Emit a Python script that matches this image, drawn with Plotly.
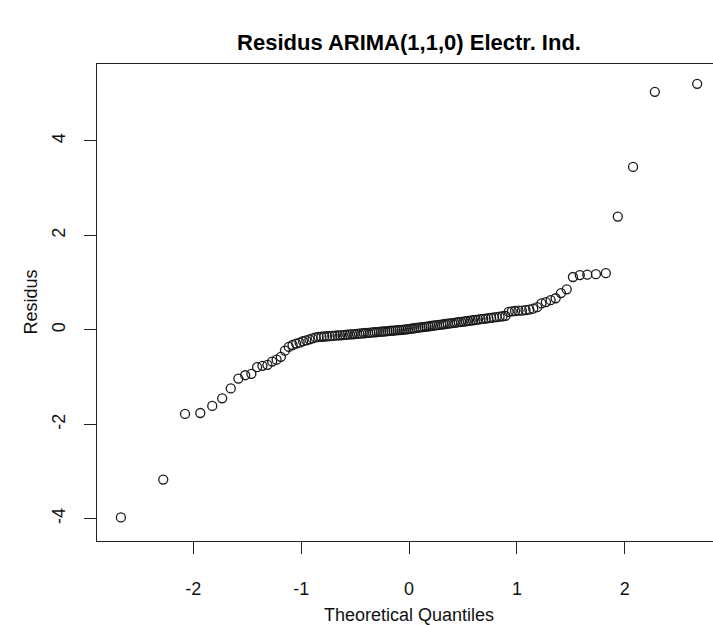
import plotly.graph_objects as go
from statistics import NormalDist

# Sorted residuals (ARIMA(1,1,0) residuals, n = 132)
residus_low = [-3.97, -3.17, -1.78, -1.76, -1.61, -1.45, -1.24, -1.03, -0.96, -0.93,
               -0.79, -0.76, -0.74, -0.67, -0.63, -0.57, -0.44, -0.36, -0.32, -0.29,
               -0.27, -0.24, -0.22, -0.20, -0.18, -0.16]
residus_mid_left = [-0.150, -0.145, -0.140, -0.135, -0.132, -0.128, -0.123, -0.118, -0.114, -0.110,
                    -0.105, -0.100, -0.097, -0.093, -0.088, -0.083, -0.080, -0.075, -0.071, -0.066,
                    -0.062, -0.058, -0.054, -0.050, -0.046, -0.042, -0.038, -0.034, -0.030, -0.026,
                    -0.022, -0.018, -0.014, -0.010, -0.006, -0.002, 0.002, 0.006, 0.010, 0.014]
residus_mid_right = [0.023, 0.029, 0.035, 0.041, 0.046, 0.052, 0.058, 0.064, 0.070, 0.076,
                     0.082, 0.088, 0.094, 0.100, 0.106, 0.113, 0.119, 0.125, 0.131, 0.138,
                     0.144, 0.150, 0.157, 0.163, 0.170, 0.177, 0.183, 0.190, 0.197, 0.204,
                     0.211, 0.218, 0.226, 0.233, 0.240, 0.248, 0.256, 0.264, 0.272, 0.280,
                     0.289, 0.298]
residus_high = [0.38, 0.39, 0.40, 0.41, 0.41, 0.42, 0.43,
                0.45, 0.48, 0.56, 0.59, 0.63, 0.67, 0.78, 0.86, 1.12, 1.16, 1.17, 1.18,
                1.20, 2.40, 3.45, 5.04, 5.21]

x_ticks = [-2, -1, 0, 1, 2]
y_ticks = [-4, -2, 0, 2, 4]

residus = residus_low + residus_mid_left + residus_mid_right + residus_high
n = len(residus)
# qqnorm theoretical quantiles: ppoints(n) = (i - 0.5) / n for n > 10
nd = NormalDist()
theo = [nd.inv_cdf((i + 0.5) / n) for i in range(n)]

FONT = "Liberation Sans, Arial, Helvetica, sans-serif"
TOP, BOTTOM, LEFT = 64, 541, 97

fig = go.Figure()
fig.add_trace(go.Scatter(
    x=theo, y=residus, mode="markers",
    marker=dict(symbol="circle-open", size=9, color="#1a1a1a", line=dict(width=1.3)),
    showlegend=False, hoverinfo="x+y",
))

fig.update_layout(
    width=713, height=625,
    margin=dict(l=LEFT, r=0, t=TOP, b=625 - BOTTOM),
    paper_bgcolor="white", plot_bgcolor="white",
    font=dict(family=FONT, size=17, color="black"),
    title=dict(text="<b>Residus ARIMA(1,1,0) Electr. Ind.</b>",
               x=409 / 713, xanchor="center",
               y=1 - 42 / 625, yanchor="middle", yref="container",
               font=dict(family=FONT, size=22, color="black")),
    xaxis=dict(range=[-2.892, 2.817], tickvals=x_ticks, ticktext=[str(v) for v in x_ticks],
               showgrid=False, zeroline=False, showline=True, linecolor="#222", linewidth=1,
               mirror=True, ticks="outside", ticklen=12, tickcolor="#222", tickwidth=1,
               ticklabelstandoff=19, tickfont=dict(size=18, color="#111")),
    yaxis=dict(range=[-4.47, 5.63], tickvals=y_ticks, ticktext=[str(v) for v in y_ticks],
               showgrid=False, zeroline=False, showline=True, linecolor="#222", linewidth=1,
               ticks="outside", ticklen=12, tickcolor="#222", tickwidth=1, tickangle=-90,
               ticklabelstandoff=12, tickfont=dict(size=18, color="#111")),
    annotations=[
        dict(text="Theoretical Quantiles", xref="paper", yref="paper",
             x=(409 - LEFT) / (713 - LEFT), y=-(615 - BOTTOM) / (BOTTOM - TOP),
             xanchor="center", yanchor="middle", showarrow=False,
             font=dict(family=FONT, size=18, color="#111")),
        dict(text="Residus", xref="paper", yref="paper",
             x=-(LEFT - 30) / (713 - LEFT), y=0.5, textangle=-90,
             xanchor="center", yanchor="middle", showarrow=False,
             font=dict(family=FONT, size=18, color="#111")),
    ],
)

fig.write_html("out.html")
